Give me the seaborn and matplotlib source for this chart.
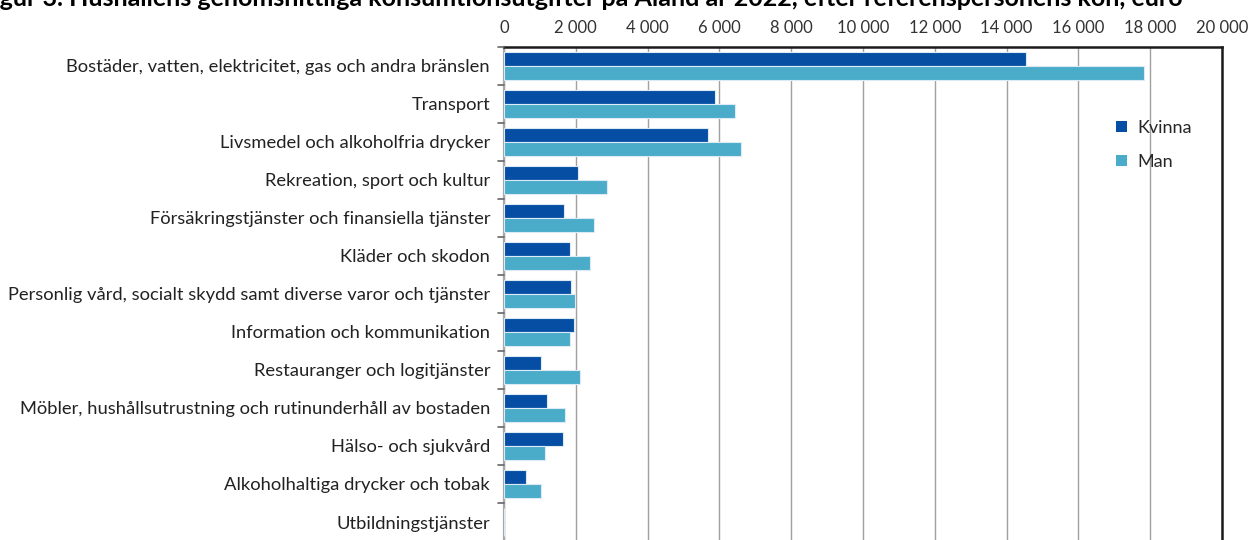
import matplotlib
matplotlib.use("Agg")
import matplotlib.pyplot as plt
import seaborn as sns
import pandas as pd
from matplotlib.ticker import FuncFormatter, MultipleLocator

categories = [
    "Bostäder, vatten, elektricitet, gas och andra bränslen",
    "Transport",
    "Livsmedel och alkoholfria drycker",
    "Rekreation, sport och kultur",
    "Försäkringstjänster och finansiella tjänster",
    "Kläder och skodon",
    "Personlig vård, socialt skydd samt diverse varor och tjänster",
    "Information och kommunikation",
    "Restauranger och logitjänster",
    "Möbler, hushållsutrustning och rutinunderhåll av bostaden",
    "Hälso- och sjukvård",
    "Alkoholhaltiga drycker och tobak",
    "Utbildningstjänster",
]
kvinna = [14530, 5890, 5690, 2060, 1660, 1830, 1880, 1950, 1030, 1190, 1640, 610, 10]
man = [17830, 6440, 6610, 2860, 2500, 2400, 1980, 1850, 2130, 1690, 1140, 1030, 10]
series = ["Kvinna", "Man"]
colors = {"Kvinna": "#054EA3", "Man": "#4BACC9"}
title = "Figur 3. Hushållens genomsnittliga konsumtionsutgifter på Åland år 2022, efter referenspersonens kön, euro"

df = pd.DataFrame({
    "Kategori": categories * 2,
    "Kön": ["Kvinna"] * len(categories) + ["Man"] * len(categories),
    "Värde": kvinna + man,
})

sns.set_theme(style="white")
plt.rcParams["font.family"] = ["Lato", "DejaVu Sans"]

fig = plt.figure(figsize=(12.55, 5.40), dpi=100)
ax = fig.add_axes([504 / 1255, 1 - 541 / 540, (1222 - 504) / 1255, (541 - 47) / 540])

sns.barplot(data=df, y="Kategori", x="Värde", hue="Kön", order=categories,
            hue_order=series, palette=colors, saturation=1, orient="h", width=0.76,
            edgecolor="#DCEAF5", linewidth=0.8, ax=ax, zorder=3)

ax.set_xlim(0, 20000)
ax.set_ylim(len(categories) - 0.5, -0.5)
ax.xaxis.set_major_locator(MultipleLocator(2000))
ax.xaxis.set_major_formatter(FuncFormatter(lambda v, p: f"{int(v):,}".replace(",", " ")))
ax.xaxis.tick_top()
ax.grid(axis="x", color="#A0A0A0", linewidth=1.0, zorder=0)
ax.set_xlabel("")
ax.set_ylabel("")
ax.tick_params(axis="x", length=0, labelsize=12, colors="#333333", pad=8)
ax.tick_params(axis="y", length=0, labelsize=13.2, colors="#222222", pad=10)

# category separator tick marks on the y axis
for b in range(len(categories) + 1):
    ax.plot([-0.009, 0], [b - 0.5, b - 0.5], transform=ax.get_yaxis_transform(),
            color="#666666", linewidth=1.2, clip_on=False, zorder=4)

for side in ["top", "right"]:
    ax.spines[side].set_color("#1A1A1A")
    ax.spines[side].set_linewidth(1.8)
ax.spines["left"].set_color("#A8A8A8")
ax.spines["left"].set_linewidth(1.6)
ax.spines["bottom"].set_visible(False)

leg = ax.legend(loc="upper left", bbox_to_anchor=(0.83, 0.885), frameon=False,
                fontsize=13, handlelength=0.6, handleheight=0.6,
                labelspacing=1.0, handletextpad=0.6)
for h in leg.legend_handles:
    h.set_edgecolor("none")

fig.text(-0.017, 1 - 6 / 540, title, ha="left", va="baseline", fontsize=18,
         fontweight="bold", color="#000000")

fig.savefig("out.png", dpi=100)
